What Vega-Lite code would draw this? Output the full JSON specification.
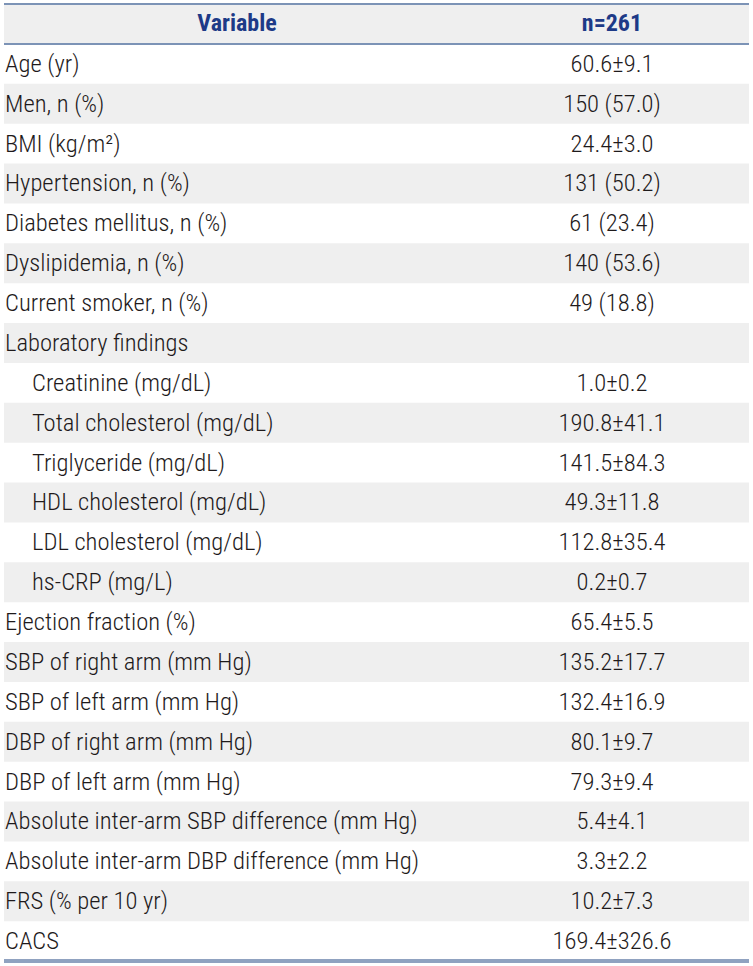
{
  "$schema": "https://vega.github.io/schema/vega-lite/v6.json",
  "width": 745,
  "height": 957,
  "padding": {"left": 4, "right": 4, "top": 4, "bottom": 5},
  "autosize": {"type": "none"},
  "background": "white",
  "config": {"view": {"stroke": null}, "text": {"font": "'Roboto Condensed', 'DejaVu Sans Condensed', sans-serif"}},
  "data": {
    "values": [
      {"i": 0, "Variable": "Age (yr)", "level": 0, "Value": "60.6±9.1"},
      {"i": 1, "Variable": "Men, n (%)", "level": 0, "Value": "150 (57.0)"},
      {"i": 2, "Variable": "BMI (kg/m²)", "level": 0, "Value": "24.4±3.0"},
      {"i": 3, "Variable": "Hypertension, n (%)", "level": 0, "Value": "131 (50.2)"},
      {"i": 4, "Variable": "Diabetes mellitus, n (%)", "level": 0, "Value": "\u200761 (23.4)"},
      {"i": 5, "Variable": "Dyslipidemia, n (%)", "level": 0, "Value": "140 (53.6)"},
      {"i": 6, "Variable": "Current smoker, n (%)", "level": 0, "Value": "\u200749 (18.8)"},
      {"i": 7, "Variable": "Laboratory findings", "level": 0, "Value": ""},
      {"i": 8, "Variable": "Creatinine (mg/dL)", "level": 1, "Value": "1.0±0.2"},
      {"i": 9, "Variable": "Total cholesterol (mg/dL)", "level": 1, "Value": "190.8±41.1"},
      {"i": 10, "Variable": "Triglyceride (mg/dL)", "level": 1, "Value": "141.5±84.3"},
      {"i": 11, "Variable": "HDL cholesterol (mg/dL)", "level": 1, "Value": "49.3±11.8"},
      {"i": 12, "Variable": "LDL cholesterol (mg/dL)", "level": 1, "Value": "112.8±35.4"},
      {"i": 13, "Variable": "hs-CRP (mg/L)", "level": 1, "Value": "0.2±0.7"},
      {"i": 14, "Variable": "Ejection fraction (%)", "level": 0, "Value": "65.4±5.5"},
      {"i": 15, "Variable": "SBP of right arm (mm Hg)", "level": 0, "Value": "135.2±17.7"},
      {"i": 16, "Variable": "SBP of left arm (mm Hg)", "level": 0, "Value": "132.4±16.9"},
      {"i": 17, "Variable": "DBP of right arm (mm Hg)", "level": 0, "Value": "80.1±9.7"},
      {"i": 18, "Variable": "DBP of left arm (mm Hg)", "level": 0, "Value": "79.3±9.4"},
      {"i": 19, "Variable": "Absolute inter-arm SBP difference (mm Hg)", "level": 0, "Value": "5.4±4.1"},
      {"i": 20, "Variable": "Absolute inter-arm DBP difference (mm Hg)", "level": 0, "Value": "3.3±2.2"},
      {"i": 21, "Variable": "FRS (% per 10 yr)", "level": 0, "Value": "10.2±7.3"},
      {"i": 22, "Variable": "CACS", "level": 0, "Value": "169.4±326.6"}
    ]
  },
  "resolve": {"scale": {"x": "shared", "y": "shared"}},
  "layer": [
    {
      "data": {"values": [{"i": -1}]},
      "mark": {"type": "rect", "fill": "#efefef"},
      "encoding": {
        "y": {"field": "i", "type": "ordinal", "axis": null,
          "scale": {"domain": [-1,0,1,2,3,4,5,6,7,8,9,10,11,12,13,14,15,16,17,18,19,20,21,22], "paddingInner": 0, "paddingOuter": 0}}
      }
    },
    {
      "transform": [{"filter": "datum.i % 2 == 1"}],
      "mark": {"type": "rect", "fill": "#efefef"},
      "encoding": {
        "y": {"field": "i", "type": "ordinal", "axis": null}
      }
    },
    {
      "mark": {"type": "rule", "stroke": "#7d93b6", "strokeWidth": 1.5},
      "encoding": {"y": {"datum": -1, "type": "ordinal", "bandPosition": 0}}
    },
    {
      "mark": {"type": "rule", "stroke": "#7d93b6", "strokeWidth": 1.5},
      "encoding": {"y": {"datum": -1, "type": "ordinal", "bandPosition": 1}}
    },
    {
      "mark": {"type": "rule", "stroke": "#8fa2c0", "strokeWidth": 3},
      "encoding": {"y": {"datum": 22, "type": "ordinal", "bandPosition": 1}}
    },
    {
      "data": {"values": [{"h": "Variable"}, {"h": "n=261"}]},
      "mark": {"type": "text", "fontSize": 24, "fontWeight": "bold", "fill": "#1d3a87", "align": "center", "baseline": "middle"},
      "encoding": {
        "x": {"field": "h", "type": "nominal", "axis": null,
          "scale": {"type": "point", "domain": ["Variable", "n=261"], "range": [233, 608], "padding": 0}},
        "y": {"datum": -1, "type": "ordinal"},
        "text": {"field": "h"}
      }
    },
    {
      "transform": [{"filter": "datum.level == 0"}],
      "mark": {"type": "text", "fontSize": 24.6, "fontWeight": 300, "fill": "#1e1a1b", "align": "left", "baseline": "middle", "dx": -232, "dy": 1},
      "encoding": {
        "x": {"datum": "Variable", "type": "nominal"},
        "y": {"field": "i", "type": "ordinal"},
        "text": {"field": "Variable"}
      }
    },
    {
      "transform": [{"filter": "datum.level == 1"}],
      "mark": {"type": "text", "fontSize": 24.6, "fontWeight": 300, "fill": "#1e1a1b", "align": "left", "baseline": "middle", "dx": -205, "dy": 1},
      "encoding": {
        "x": {"datum": "Variable", "type": "nominal"},
        "y": {"field": "i", "type": "ordinal"},
        "text": {"field": "Variable"}
      }
    },
    {
      "mark": {"type": "text", "fontSize": 24.6, "fontWeight": 300, "fill": "#1e1a1b", "align": "center", "baseline": "middle", "dy": 1},
      "encoding": {
        "x": {"datum": "n=261", "type": "nominal"},
        "y": {"field": "i", "type": "ordinal"},
        "text": {"field": "Value"}
      }
    }
  ]
}
